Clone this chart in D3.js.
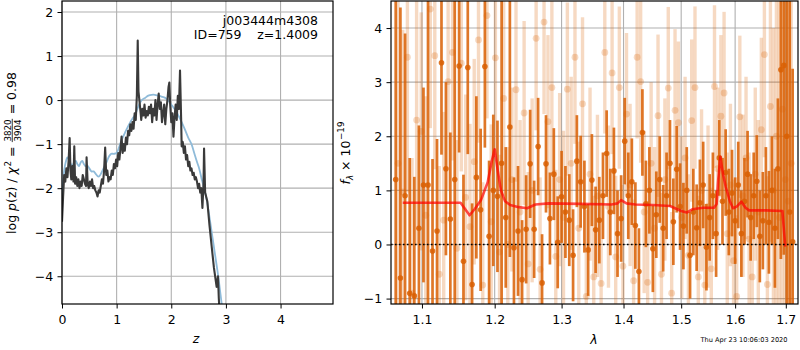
<!DOCTYPE html>
<html>
<head>
<meta charset="utf-8">
<script src="https://cdn.jsdelivr.net/npm/d3@7"></script>
<style>
  body { margin: 0; background: #fff; }
  svg { font-family: "DejaVu Sans", sans-serif; }
  text { white-space: pre; }
</style>
</head>
<body>
<div id="chart"></div>
<script>
// ---- data ----
const zTicks = [0, 1, 2, 3, 4];
const pzTicks = [-4, -3, -2, -1, 0, 1, 2];
const waveTicks = [1.1, 1.2, 1.3, 1.4, 1.5, 1.6, 1.7];
const fluxTicks = [-1, 0, 1, 2, 3, 4];

const fieldName = "j003444m4308";
const idText = "ID=759";
const zText = "z=1.4009";
const timeStamp = "Thu Apr 23 10:06:03 2020";

// log p(z) from the fit, [z, logp]
const pzFit = [[0.00,-2.76],[0.02,-2.2],[0.04,-1.7],[0.06,-1.85],[0.08,-1.55],[0.10,-1.75],[0.12,-1.4],[0.14,-0.86],[0.155,-1.6],[0.17,-1.8],
  [0.19,-1.5],[0.21,-1.85],[0.225,-1.05],[0.24,-1.9],[0.26,-1.75],[0.28,-1.95],[0.30,-1.8],[0.32,-2.0],[0.34,-1.85],[0.36,-1.95],
  [0.38,-1.7],[0.40,-1.8],[0.42,-1.9],[0.44,-1.95],[0.45,-1.3],[0.47,-1.9],[0.49,-2.0],[0.51,-1.85],[0.53,-1.95],[0.55,-1.8],
  [0.57,-2.0],[0.59,-1.95],[0.61,-2.05],[0.63,-2.1],[0.65,-2.19],[0.67,-2.05],[0.69,-2.1],[0.71,-1.95],[0.73,-1.8],[0.75,-1.9],
  [0.77,-1.6],[0.79,-1.08],[0.81,-1.7],[0.83,-1.6],[0.85,-1.85],[0.87,-1.75],[0.89,-1.8],[0.91,-1.6],[0.93,-1.7],[0.95,-1.45],
  [0.97,-1.55],[0.99,-1.35],[1.01,-1.5],[1.03,-1.2],[1.05,-1.35],[1.07,-1.1],[1.09,-0.83],[1.11,-1.2],[1.13,-1.0],[1.15,-1.15],
  [1.17,-0.85],[1.19,-1.0],[1.21,-0.7],[1.23,-0.8],[1.25,-0.55],[1.27,-0.7],[1.29,-0.5],[1.31,-0.65],[1.33,-0.3],[1.35,-0.45],
  [1.37,0.1],[1.386,1.35],[1.40,0.2],[1.42,-0.05],[1.44,-0.3],[1.45,-0.45],[1.47,-0.2],[1.49,-0.35],[1.51,-0.1],[1.53,-0.4],
  [1.55,-0.25],[1.57,-0.35],[1.59,-0.15],[1.61,-0.3],[1.63,-0.1],[1.65,-0.5],[1.67,-0.2],[1.69,-0.35],[1.71,0.0],[1.73,-0.45],
  [1.75,-0.1],[1.77,0.15],[1.79,-0.2],[1.81,-0.05],[1.83,-0.5],[1.85,-0.3],[1.87,-0.1],[1.89,-0.55],[1.91,-0.2],[1.93,0.0],
  [1.95,0.3],[1.965,0.4],[1.98,-0.1],[2.00,-0.5],[2.02,-0.3],[2.04,-0.83],[2.06,-0.4],[2.08,-0.1],[2.10,-0.45],[2.12,0.1],
  [2.14,-0.2],[2.16,0.67],[2.18,-0.4],[2.19,-1.05],[2.21,-0.95],[2.23,-1.2],[2.25,-1.05],[2.27,-1.35],[2.29,-1.25],[2.31,-1.5],
  [2.33,-1.4],[2.35,-1.6],[2.37,-1.55],[2.39,-1.7],[2.41,-1.65],[2.43,-1.8],[2.45,-1.75],[2.47,-1.85],[2.49,-2.0],[2.51,-1.9],
  [2.53,-2.1],[2.55,-2.0],[2.57,-2.45],[2.59,-1.9],[2.60,-1.1],[2.62,-2.1],[2.64,-2.2],[2.66,-2.3],[2.70,-2.85],[2.74,-3.33],
  [2.78,-3.8],[2.83,-4.24],[2.855,-4.0],[2.87,-4.5],[2.90,-5.2],[2.95,-6.0]];

// smooth curve, [z, logp]
const pzSmooth = [[0.00,-2.65],[0.02,-1.9],[0.04,-1.6],[0.07,-1.4],[0.10,-1.3],[0.13,-1.35],[0.16,-1.45],[0.19,-1.48],[0.22,-1.42],[0.25,-1.38],
  [0.28,-1.45],[0.31,-1.5],[0.34,-1.42],[0.37,-1.38],[0.40,-1.45],[0.43,-1.5],[0.46,-1.48],[0.50,-1.55],[0.54,-1.62],[0.58,-1.62],
  [0.62,-1.68],[0.665,-1.74],[0.70,-1.7],[0.74,-1.6],[0.78,-1.5],[0.82,-1.4],[0.86,-1.28],[0.90,-1.22],[0.95,-1.22],[1.00,-1.2],
  [1.05,-1.05],[1.10,-0.88],[1.15,-0.75],[1.20,-0.62],[1.25,-0.5],[1.30,-0.4],[1.34,-0.33],[1.38,-0.2],[1.42,-0.08],[1.46,0.0],
  [1.52,0.05],[1.58,0.1],[1.64,0.12],[1.70,0.12],[1.76,0.1],[1.82,0.08],[1.89,0.05],[1.95,-0.02],[2.01,-0.12],[2.07,-0.22],
  [2.13,-0.35],[2.19,-0.5],[2.25,-0.67],[2.31,-0.85],[2.37,-1.0],[2.42,-1.2],[2.47,-1.4],[2.50,-1.51],[2.53,-1.65],[2.56,-1.81],
  [2.60,-2.0],[2.65,-2.27],[2.71,-2.75],[2.77,-3.25],[2.83,-3.75],[2.86,-4.0],[2.90,-4.4],[2.95,-4.9]];

// spectrum, first set (dark), [wave, flux, err]
const specDark = [[1.066,1.2,5.0],[1.072,-0.62,5.0],[1.078,0.9,3.0],[1.084,-0.9,2.5],[1.090,-0.95,2.2],[1.096,0.3,1.9],[1.102,1.1,1.8],[1.108,1.1,3.4],[1.114,-0.12,1.7],[1.120,0.25,1.7],
  [1.126,3.36,1.7],[1.132,1.4,1.6],[1.138,0.47,1.6],[1.144,1.2,3.3],[1.150,3.3,1.6],[1.156,-0.31,1.6],[1.162,3.27,1.6],[1.168,-0.74,1.5],[1.174,1.24,1.5],[1.180,0.64,1.5],
  [1.186,3.29,1.5],[1.192,0.15,1.4],[1.198,1.0,1.4],[1.204,0.89,1.4],[1.210,1.5,3.0],[1.216,0.5,1.3],[1.222,2.17,2.4],[1.228,-0.06,1.3],[1.234,0.25,1.2],[1.240,-0.65,1.1],
  [1.246,0.28,1.0],[1.252,1.49,1.0],[1.258,0.28,0.9],[1.264,1.81,0.9],[1.270,-0.71,0.9],[1.276,1.49,0.9],[1.282,0.48,0.85],[1.288,1.3,0.85],[1.294,0.04,0.85],[1.300,0.88,0.85],
  [1.306,0.6,0.85],[1.312,0.45,0.85],[1.318,-0.2,0.85],[1.324,1.54,0.85],[1.330,1.16,0.85],[1.336,0.7,0.85],[1.342,-0.1,0.85],[1.348,1.19,0.85],[1.354,0.27,0.8],[1.360,0.45,0.8],
  [1.366,0.9,0.8],[1.372,1.68,0.8],[1.378,0.6,0.8],[1.384,1.36,0.8],[1.390,0.2,0.8],[1.396,0.48,0.8],[1.402,1.91,0.8],[1.408,0.9,0.8],[1.414,1.16,0.8],[1.420,0.35,0.8],
  [1.426,-0.5,0.8],[1.432,2.07,0.8],[1.438,0.75,0.8],[1.444,1.0,0.8],[1.450,-0.08,0.8],[1.456,0.55,0.8],[1.462,1.2,0.8],[1.468,0.3,0.8],[1.474,0.9,0.8],[1.480,1.5,0.8],
  [1.486,0.42,0.8],[1.492,1.39,0.8],[1.498,0.7,0.8],[1.504,0.34,0.8],[1.510,1.0,0.8],[1.516,-0.2,0.8],[1.522,0.6,0.8],[1.528,0.31,0.8],[1.534,0.77,0.8],[1.540,1.1,0.8],
  [1.546,-0.05,0.8],[1.552,0.5,0.8],[1.558,0.9,0.8],[1.564,0.2,0.8],[1.570,1.6,0.7],[1.576,0.8,0.8],[1.582,1.33,0.8],[1.588,0.6,0.8],[1.594,0.95,0.8],[1.600,0.44,0.8],
  [1.606,1.1,0.8],[1.612,0.2,0.8],[1.618,0.8,0.8],[1.624,1.3,0.8],[1.630,0.5,0.8],[1.636,0.9,0.8],[1.642,1.17,0.85],[1.648,0.15,0.85],[1.654,0.44,0.9],[1.660,0.9,0.9],
  [1.666,0.41,0.95],[1.672,1.0,1.0],[1.678,0.3,1.1],[1.684,1.4,1.3],[1.690,3.23,3.5],[1.696,3.31,3.5],[1.702,2.0,4.0],[1.708,0.6,4.5],[1.714,0.05,3.2]];

// spectrum, second set (faint), [wave, flux, err]
const specFaint = [[1.069,1.5,4.0],[1.075,0.97,3.0],[1.081,3.46,2.5],[1.087,-0.9,2.5],[1.093,2.3,2.3],[1.099,2.09,2.2],[1.105,0.54,2.2],[1.111,4.35,2.2],[1.117,3.49,2.1],[1.123,-0.55,2.0],
  [1.129,0.45,2.0],[1.135,3.01,2.0],[1.141,3.55,2.0],[1.147,-0.07,2.0],[1.153,3.35,2.0],[1.159,0.87,1.9],[1.165,0.33,1.9],[1.171,1.53,1.9],[1.177,3.78,1.9],[1.183,-0.75,1.9],
  [1.189,4.23,1.9],[1.195,0.42,1.8],[1.201,3.45,1.8],[1.207,-0.14,1.8],[1.213,2.7,1.8],[1.219,0.0,1.8],[1.225,1.2,1.7],[1.231,2.86,1.7],[1.237,0.6,1.7],[1.243,2.43,1.7],
  [1.249,-0.36,1.7],[1.255,1.0,1.7],[1.261,3.81,1.7],[1.267,-0.46,1.7],[1.273,4.11,1.7],[1.279,2.27,1.6],[1.285,2.9,1.6],[1.291,-0.22,1.6],[1.297,1.2,1.6],[1.303,0.5,1.6],
  [1.309,2.87,1.6],[1.315,1.5,1.6],[1.321,3.46,1.6],[1.327,0.3,1.6],[1.333,2.6,1.6],[1.339,-0.96,1.6],[1.345,1.3,1.6],[1.351,-0.6,1.5],[1.357,0.9,1.5],[1.363,-0.72,1.5],
  [1.369,3.55,1.5],[1.375,0.7,1.5],[1.381,3.17,1.5],[1.387,-0.23,1.5],[1.393,2.9,1.5],[1.399,-0.4,1.5],[1.405,2.41,1.5],[1.411,1.1,1.5],[1.417,-0.67,1.5],[1.423,3.46,1.5],
  [1.429,3.01,1.5],[1.435,0.6,1.5],[1.441,-0.7,1.5],[1.447,1.5,1.5],[1.453,0.3,1.5],[1.459,2.38,1.5],[1.465,-0.55,1.5],[1.471,1.2,1.5],[1.477,2.89,1.5],[1.483,-0.9,1.5],
  [1.489,2.48,1.5],[1.495,2.25,1.5],[1.501,0.5,1.5],[1.507,1.6,1.5],[1.513,-0.2,1.5],[1.519,2.29,1.5],[1.525,2.9,1.5],[1.531,-0.6,1.5],[1.537,1.0,1.5],[1.543,-0.75,1.5],
  [1.549,0.7,1.5],[1.555,-0.45,1.5],[1.561,2.92,1.5],[1.567,1.4,1.5],[1.573,2.37,1.5],[1.579,2.8,1.5],[1.585,0.2,1.5],[1.591,1.1,1.5],[1.597,-0.3,1.5],[1.603,-0.96,1.5],
  [1.609,2.36,1.5],[1.615,0.9,1.5],[1.621,1.6,1.5],[1.627,0.1,1.6],[1.633,-0.6,1.6],[1.639,1.3,1.6],[1.645,0.6,1.7],[1.651,2.12,1.7],[1.657,3.51,1.9],[1.663,-0.74,2.0],
  [1.669,2.55,2.5],[1.675,1.0,3.0],[1.681,2.0,3.5],[1.687,0.5,4.0],[1.693,2.5,4.0],[1.699,1.2,4.0],[1.705,0.8,4.0],[1.711,1.5,4.0]];

// best-fit model, [wave, flux]
const model = [[1.075,0.77],[1.10,0.77],[1.13,0.77],[1.152,0.77],[1.158,0.66],[1.1645,0.54],[1.172,0.66],[1.1805,0.82],[1.19,1.15],[1.196,1.55],
  [1.2,1.76],[1.204,1.4],[1.209,1.0],[1.215,0.8],[1.2225,0.73],[1.235,0.69],[1.2475,0.67],[1.26,0.74],[1.28,0.76],[1.33,0.75],
  [1.38,0.74],[1.39,0.76],[1.396,0.82],[1.405,0.76],[1.42,0.74],[1.45,0.73],[1.48,0.71],[1.50,0.62],[1.51,0.59],[1.52,0.65],
  [1.54,0.68],[1.56,0.68],[1.565,0.75],[1.568,1.2],[1.572,1.62],[1.577,1.3],[1.582,1.07],[1.59,0.8],[1.596,0.67],[1.603,0.7],
  [1.612,0.79],[1.62,0.68],[1.627,0.63],[1.66,0.63],[1.693,0.62],[1.699,-0.04]];

// ---- layout ----
const W = 800, H = 350;
const FS = 12.5;
const gridColor = "#b0b0b0";
const specColor = "#d95f02";

const svg = d3.select("#chart").append("svg")
  .attr("width", W)
  .attr("height", H);

const boxL = {left: 62, right: 333, top: 1, bottom: 304};
const boxR = {left: 391, right: 798, top: 1, bottom: 304};

const xZ = d3.scaleLinear().domain([0, 4.96]).range([boxL.left, boxL.right]);
const yP = d3.scaleLinear().domain([-4.63, 2.25]).range([boxL.bottom, boxL.top]);
const xW = d3.scaleLog().domain([1.06, 1.725]).range([boxR.left, boxR.right]);
const yF = d3.scaleLinear().domain([-1.1, 4.5]).range([boxR.bottom, boxR.top]);

function addClip(id, b) {
  svg.append("clipPath").attr("id", id)
    .append("rect")
    .attr("x", b.left).attr("y", b.top)
    .attr("width", b.right - b.left).attr("height", b.bottom - b.top);
}
addClip("clipL", boxL);
addClip("clipR", boxR);

function drawGrid(b, xs, ys, xt, yt) {
  const g = svg.append("g").attr("stroke", gridColor).attr("stroke-width", 1.1);
  g.selectAll(null).data(xt).enter().append("line")
    .attr("x1", d => xs(d)).attr("x2", d => xs(d))
    .attr("y1", b.top).attr("y2", b.bottom);
  g.selectAll(null).data(yt).enter().append("line")
    .attr("x1", b.left).attr("x2", b.right)
    .attr("y1", d => ys(d)).attr("y2", d => ys(d));
}

function drawAxes(b, xs, ys, xt, yt, xfmt, yfmt) {
  svg.append("g")
    .attr("transform", "translate(0," + b.bottom + ")")
    .call(d3.axisBottom(xs).tickValues(xt).tickFormat(xfmt).tickSize(4.5).tickPadding(7).tickSizeOuter(0))
    .call(g => g.select(".domain").remove())
    .attr("font-size", FS).attr("font-family", "DejaVu Sans");
  svg.append("g")
    .attr("transform", "translate(" + b.left + ",0)")
    .call(d3.axisLeft(ys).tickValues(yt).tickFormat(yfmt).tickSize(4.5).tickPadding(4.3).tickSizeOuter(0))
    .call(g => g.select(".domain").remove())
    .attr("font-size", FS).attr("font-family", "DejaVu Sans");
  svg.append("rect")
    .attr("x", b.left).attr("y", b.top)
    .attr("width", b.right - b.left).attr("height", b.bottom - b.top)
    .attr("fill", "none").attr("stroke", "black").attr("stroke-width", 1.2);
}

// ---- left panel: p(z) ----
drawGrid(boxL, xZ, yP, zTicks, pzTicks);

const left = svg.append("g").attr("clip-path", "url(#clipL)");
left.append("path")
  .datum(pzSmooth)
  .attr("d", d3.line().x(d => xZ(d[0])).y(d => yP(d[1])).curve(d3.curveCatmullRom))
  .attr("fill", "none")
  .attr("stroke", "#8fbbd9")
  .attr("stroke-width", 1.8);
left.append("path")
  .datum(pzFit)
  .attr("d", d3.line().x(d => xZ(d[0])).y(d => yP(d[1])))
  .attr("fill", "none")
  .attr("stroke", "#3a3a3a")
  .attr("stroke-width", 2.1)
  .attr("stroke-linejoin", "round");

drawAxes(boxL, xZ, yP, zTicks, pzTicks, d3.format("d"), d3.format("d"));

svg.append("text").attr("x", 318).attr("y", 24.5).attr("text-anchor", "end")
  .attr("font-size", FS).text(fieldName);
svg.append("text").attr("x", 241.5).attr("y", 38.5).attr("text-anchor", "end")
  .attr("font-size", FS).text(idText);
svg.append("text").attr("x", 318).attr("y", 38.5).attr("text-anchor", "end")
  .attr("font-size", FS).text(zText);

// ---- right panel: spectrum ----
drawGrid(boxR, xW, yF, waveTicks, fluxTicks);

const right = svg.append("g").attr("clip-path", "url(#clipR)");

function drawSpec(data, opacity, barW, r) {
  const g = right.append("g");
  g.selectAll(null).data(data).enter().append("line")
    .attr("x1", d => xW(d[0])).attr("x2", d => xW(d[0]))
    .attr("y1", d => yF(d[1] - d[2])).attr("y2", d => yF(d[1] + d[2]))
    .attr("stroke", specColor).attr("stroke-width", barW)
    .attr("stroke-opacity", opacity);
  g.selectAll(null).data(data).enter().append("circle")
    .attr("cx", d => xW(d[0])).attr("cy", d => yF(d[1]))
    .attr("r", r)
    .attr("fill", specColor).attr("fill-opacity", opacity);
}
drawSpec(specFaint, 0.24, 3.4, 3.4);
drawSpec(specDark, 0.85, 2.7, 2.8);

right.append("path")
  .datum(model)
  .attr("d", d3.line().x(d => xW(d[0])).y(d => yF(d[1])))
  .attr("fill", "none")
  .attr("stroke", "red")
  .attr("stroke-opacity", 0.7)
  .attr("stroke-width", 2.6)
  .attr("stroke-linejoin", "round");

right.append("line")
  .attr("x1", boxR.left).attr("x2", boxR.right)
  .attr("y1", yF(0)).attr("y2", yF(0))
  .attr("stroke", "black").attr("stroke-width", 1.6)
  .attr("stroke-dasharray", "1.6,2.4");

drawAxes(boxR, xW, yF, waveTicks, fluxTicks, d3.format(".1f"), d3.format("d"));

// ---- axis labels ----
svg.append("text").attr("x", 196).attr("y", 343).attr("text-anchor", "middle")
  .attr("font-size", FS).attr("font-style", "italic").text("z");
svg.append("text").attr("x", 594).attr("y", 344).attr("text-anchor", "middle")
  .attr("font-size", FS).attr("font-style", "italic").text("λ");

svg.append("text").attr("x", 787.5).attr("y", 341.5).attr("text-anchor", "end")
  .attr("font-size", 6.6).text(timeStamp);

// left y label: log p(z) / chi^2 = 3820/3904 = 0.98
(function () {
  const outer = svg.append("g").attr("transform", "translate(16,153) rotate(-90)");
  const g = outer.append("g");
  const small = FS * 0.7;
  let x = 0;
  const t1 = g.append("text").attr("x", x).attr("font-size", FS);
  t1.append("tspan").text("log ");
  t1.append("tspan").attr("font-style", "italic").text("p");
  t1.append("tspan").text("(z) / ");
  t1.append("tspan").attr("font-style", "italic").text("χ");
  x += t1.node().getComputedTextLength();
  const sup = g.append("text").attr("x", x + 0.5).attr("y", -FS * 0.42)
    .attr("font-size", small).text("2");
  x += sup.node().getComputedTextLength() + 0.5;
  const eq = g.append("text").attr("x", x).attr("font-size", FS).text(" = ");
  x += eq.node().getComputedTextLength();
  const num = g.append("text").attr("font-size", small).attr("text-anchor", "middle").text("3820");
  const den = g.append("text").attr("font-size", small).attr("text-anchor", "middle").text("3904");
  const fw = Math.max(num.node().getComputedTextLength(), den.node().getComputedTextLength()) + 2;
  num.attr("x", x + fw / 2).attr("y", -FS * 0.42);
  den.attr("x", x + fw / 2).attr("y", FS * 0.42);
  g.append("line").attr("x1", x + 0.5).attr("x2", x + fw - 0.5)
    .attr("y1", -FS * 0.3).attr("y2", -FS * 0.3)
    .attr("stroke", "black").attr("stroke-width", 0.8);
  x += fw;
  const eq2 = g.append("text").attr("x", x).attr("font-size", FS).text(" = 0.98");
  x += eq2.node().getComputedTextLength();
  g.attr("transform", "translate(" + (-x / 2) + ",0)");
})();

// right y label: f_lambda x 10^-19
(function () {
  const outer = svg.append("g").attr("transform", "translate(350,153) rotate(-90)");
  const g = outer.append("g");
  const small = FS * 0.7;
  let x = 0;
  const f = g.append("text").attr("x", x).attr("font-size", FS).attr("font-style", "italic").text("f");
  x += f.node().getComputedTextLength();
  const sub = g.append("text").attr("x", x).attr("y", FS * 0.22)
    .attr("font-size", small).attr("font-style", "italic").text("λ");
  x += sub.node().getComputedTextLength();
  const mid = g.append("text").attr("x", x).attr("font-size", FS).text(" × 10");
  x += mid.node().getComputedTextLength();
  const sup = g.append("text").attr("x", x + 0.5).attr("y", -FS * 0.45)
    .attr("font-size", small).text("−19");
  x += sup.node().getComputedTextLength() + 0.5;
  g.attr("transform", "translate(" + (-x / 2) + ",0)");
})();
</script>
</body>
</html>
